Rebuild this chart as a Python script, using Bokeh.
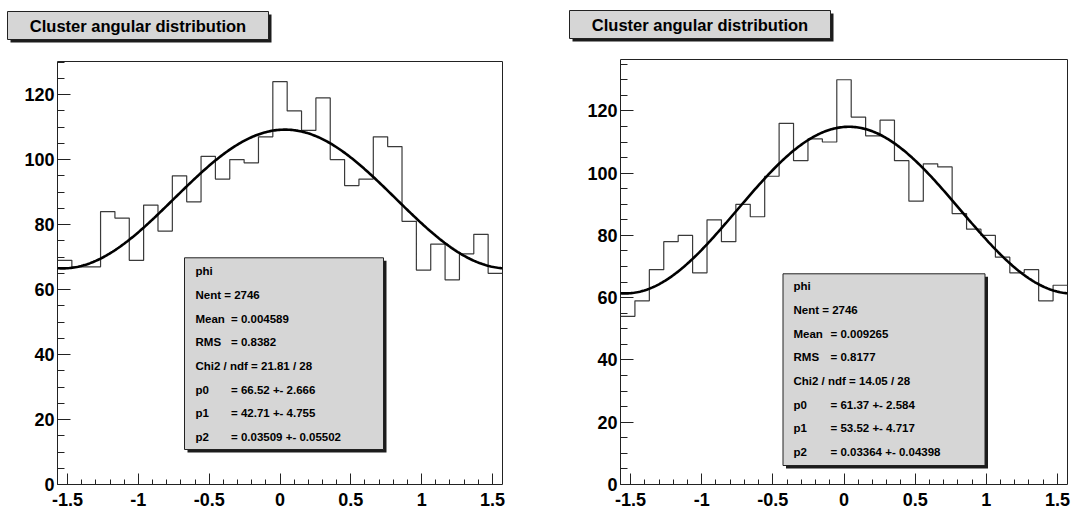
import math
import numpy as np
from bokeh.plotting import figure
from bokeh.models import Range1d, FixedTicker, SingleIntervalTicker, BoxAnnotation, Label
from bokeh.layouts import row, column
from bokeh.embed import file_html
from bokeh.resources import INLINE

# ---------------- data ----------------
title_text = "Cluster angular distribution"
x_min = -math.pi / 2
x_max = math.pi / 2
n_bins = 31

counts_left = [69, 67, 67, 84, 82, 69, 86, 78, 95, 87, 101, 94, 100, 99, 107,
               124, 115, 109, 119, 100, 92, 94, 107, 104, 81, 66, 74, 63, 71, 77, 65]
counts_right = [54, 59, 69, 78, 80, 68, 85, 78, 90, 86, 99, 116, 104, 111, 110,
                130, 118, 112, 117, 104, 91, 103, 102, 87, 82, 80, 73, 68, 69, 59, 64]

# fit: p0 + p1 * cos^2(x - p2)
fit_left = [66.52, 42.71, 0.03509]
fit_right = [61.37, 53.52, 0.03364]

stats_left_keys = ["phi", "Nent = 2746", "Mean", "RMS", "Chi2 / ndf =  21.81 / 28", "p0", "p1", "p2"]
stats_left_vals = ["", "", "= 0.004589", "= 0.8382", "", "= 66.52 +- 2.666", "= 42.71 +- 4.755",
                   "= 0.03509 +- 0.05502"]
stats_right_keys = ["phi", "Nent = 2746", "Mean", "RMS", "Chi2 / ndf =  14.05 / 28", "p0", "p1", "p2"]
stats_right_vals = ["", "", "= 0.009265", "= 0.8177", "", "= 61.37 +- 2.584", "= 53.52 +- 4.717",
                    "= 0.03364 +- 0.04398"]

x_ticks = [-1.5, -1.0, -0.5, 0.0, 0.5, 1.0, 1.5]
x_tick_labels = ["-1.5", "-1", "-0.5", "0", "0.5", "1", "1.5"]
x_minor_ticks = [round(-1.5 + 0.1 * i, 1) for i in range(31)]
y_tick_interval = 20

# ---------------- style ----------------
FONT = "Liberation Sans"
TITLE_H = 44
MAIN_H = 469
BORDER_BOTTOM = 29
BOX_FILL = "#d6d6d6"
SHADOW = "#1c1c1c"


def sbox(l, r, t, b, **kw):
    return BoxAnnotation(left=l, right=r, top=t, bottom=b,
                         left_units="screen", right_units="screen",
                         top_units="screen", bottom_units="screen", **kw)


def slabel(x, y, text, size, align="left"):
    return Label(x=x, y=y, x_units="screen", y_units="screen", text=text,
                 text_font=FONT, text_font_style="bold", text_font_size=size,
                 text_align=align, text_baseline="middle", text_color="black")


def build_panel(counts, fit, keys, vals, width, b_left, b_right, b_top,
                title_box, stats_box, text_x, val_x, line_top, line_step):
    # title strip
    t = figure(width=width, height=TITLE_H, x_range=Range1d(0, 1), y_range=Range1d(0, 1),
               toolbar_location=None, output_backend="svg", min_border=0, frame_align=False,
               x_axis_location=None, y_axis_location=None, outline_line_color=None)
    t.grid.visible = False
    l, r, tp, bt = title_box
    t.add_layout(sbox(l + 3, r + 3, tp - 3, bt - 3, fill_color=SHADOW, fill_alpha=1, line_alpha=0))
    t.add_layout(sbox(l, r, tp, bt, fill_color=BOX_FILL, fill_alpha=1,
                      line_color="#222222", line_alpha=1, line_width=1))
    t.add_layout(slabel((l + r) / 2, (tp + bt) / 2, title_text, "16.5px", align="center"))

    # main plot
    ymax = max(counts) * 1.05
    p = figure(width=width, height=MAIN_H, x_range=Range1d(x_min, x_max), y_range=Range1d(0, ymax),
               toolbar_location=None, output_backend="svg", frame_align=False,
               min_border_left=b_left, min_border_right=b_right,
               min_border_top=b_top, min_border_bottom=BORDER_BOTTOM,
               outline_line_color="#222222", outline_line_width=1)
    p.grid.visible = False

    edges = np.linspace(x_min, x_max, n_bins + 1)
    p.step(x=edges, y=list(counts) + [counts[-1]], mode="after", line_color="#3a3a3a", line_width=1.2)
    xs = np.linspace(x_min, x_max, 300)
    p0, p1, p2 = fit
    p.line(xs, p0 + p1 * np.cos(xs - p2) ** 2, line_color="black", line_width=2.6)

    xa = p.xaxis[0]
    xa.ticker = FixedTicker(ticks=x_ticks, minor_ticks=x_minor_ticks)
    xa.major_label_overrides = {v: s for v, s in zip(x_ticks, x_tick_labels)}
    ya = p.yaxis[0]
    ya.ticker = SingleIntervalTicker(interval=y_tick_interval, num_minor_ticks=4)
    for ax in (xa, ya):
        ax.axis_line_color = None
        ax.major_tick_out = 0
        ax.minor_tick_out = 0
        ax.major_tick_line_color = "#222222"
        ax.minor_tick_line_color = "#222222"
        ax.major_label_text_font = FONT
        ax.major_label_text_font_style = "bold"
        ax.major_label_text_font_size = "18px"
        ax.major_label_text_color = "black"
    xa.major_tick_in = 11
    xa.minor_tick_in = 5
    xa.major_label_standoff = 8
    ya.major_tick_in = 13
    ya.minor_tick_in = 7
    ya.major_label_standoff = 3

    l, r, tp, bt = stats_box
    p.add_layout(sbox(l + 3, r + 3, tp - 3, bt - 3, fill_color=SHADOW, fill_alpha=1, line_alpha=0))
    p.add_layout(sbox(l, r, tp, bt, fill_color=BOX_FILL, fill_alpha=1,
                      line_color="#222222", line_alpha=1, line_width=1))
    for i, (k, v) in enumerate(zip(keys, vals)):
        y = line_top - line_step * i
        p.add_layout(slabel(text_x, y, k, "11.5px"))
        if v:
            p.add_layout(slabel(val_x, y, v, "11.5px"))

    return column(t, p)


left = build_panel(counts_left, fit_left, stats_left_keys, stats_left_vals,
                   width=535, b_left=57, b_right=33, b_top=17,
                   title_box=(7, 268, 33, 5),
                   stats_box=(127, 326, 226.7, 35),
                   text_x=138, val_x=173.5, line_top=213.3, line_step=23.7)
right = build_panel(counts_right, fit_right, stats_right_keys, stats_right_vals,
                    width=536, b_left=85, b_right=4, b_top=15,
                    title_box=(34, 295, 34, 6),
                    stats_box=(162.5, 364.5, 210.7, 19),
                    text_x=173, val_x=210, line_top=198.3, line_step=23.7)

layout = row(left, right)
open("out.html", "w").write(file_html(layout, INLINE))
